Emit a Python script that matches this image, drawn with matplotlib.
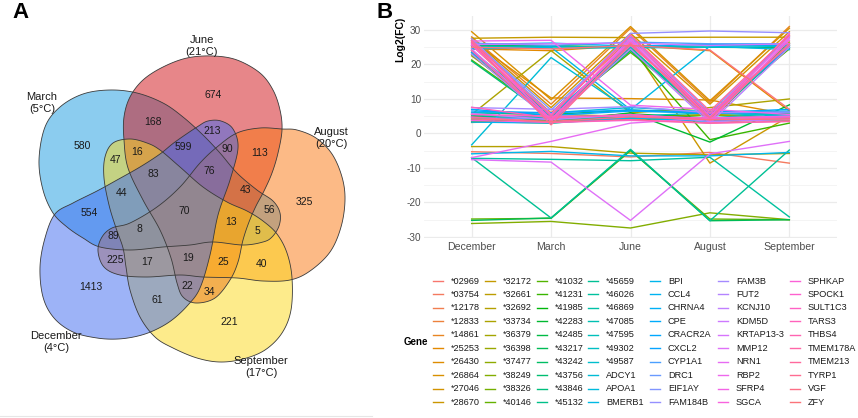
import numpy as np
import matplotlib
matplotlib.use("Agg")
import matplotlib.pyplot as plt
from matplotlib.patches import Polygon

plt.rcParams['font.family'] = ['Liberation Sans', 'DejaVu Sans']
plt.rcParams['axes.unicode_minus'] = False

# ---------------- panel A data
venn_sets = ["March", "June", "August", "September", "December"]
venn_temps = ["5°C", "21°C", "20°C", "17°C", "4°C"]
venn_counts = [674, 580, 325, 221, 1413, 168, 113, 40, 61, 554, 213, 47, 16, 599,
               90, 76, 43, 56, 5, 13, 25, 34, 22, 19, 17, 225, 89, 8, 44, 83, 70]

# ---------------- panel B data
months = ["December", "March", "June", "August", "September"]
genes = ["*02969", "*03754", "*12178", "*12833", "*14861", "*25253", "*26430", "*26864", "*27046", "*28670",
         "*32172", "*32661", "*32692", "*33734", "*36379", "*36398", "*37477", "*38249", "*38326", "*40146",
         "*41032", "*41231", "*41985", "*42283", "*42485", "*43217", "*43242", "*43756", "*43846", "*45132",
         "*45659", "*46026", "*46869", "*47085", "*47595", "*49302", "*49587", "ADCY1", "APOA1", "BMERB1",
         "BPI", "CCL4", "CHRNA4", "CPE", "CRACR2A", "CXCL2", "CYP1A1", "DRC1", "EIF1AY", "FAM184B",
         "FAM3B", "FUT2", "KCNJ10", "KDM5D", "KRTAP13-3", "MMP12", "NRN1", "RBP2", "SFRP4", "SGCA",
         "SPHKAP", "SPOCK1", "SULT1C3", "TARS3", "THBS4", "TMEM178A", "TMEM213", "TYRP1", "VGF", "ZFY"]
fc_december = [25.5, -5.3, 26.5, 4.5, 28.0, 24.5, 27.0, 29.5, 27.5, 24.0,
               27.6, 4.5, -3.8, 5.5, 3.5, 22.5, 5.0, -26.1, 3.2, -24.8,
               21.3, 23.0, 4.8, 4.0, 25.5, -25.2, 6.0, 21.0, 5.2, 23.5,
               -7.0, -7.2, 24.0, 5.5, 25.3, 4.0, 24.7, -3.3, 6.0, 24.5,
               -5.9, 3.3, 25.8, 23.5, 7.0, 6.5, 26.2, 4.6, 27.0, 27.5,
               7.5, 23.0, 5.8, 25.8, 24.5, -7.6, -7.0, 26.8, 26.5, 3.8,
               25.5, 5.5, 26.0, 7.6, 24.0, 4.8, 27.0, 26.5, 4.2, 25.0]
fc_march = [4.5, -5.8, 6.0, 4.0, 8.5, 24.0, 10.3, 9.8, 7.5, 4.5,
            27.9, 5.0, -3.8, 24.0, 3.0, 5.5, 5.5, -25.5, 3.8, -24.6,
            5.0, 4.0, 4.2, 3.2, 25.5, -24.5, 5.5, 4.5, 3.8, 5.0,
            -24.5, -7.5, 5.5, 4.5, 25.2, 4.8, 24.8, 22.0, 6.0, 25.0,
            -5.2, 3.0, 26.2, 5.0, 5.2, 6.0, 25.5, 4.2, 6.8, 5.5,
            7.0, 3.5, 4.0, 26.0, 3.8, -8.3, -2.3, 27.0, 4.0, 3.2,
            5.5, 5.0, 4.2, 4.5, 3.5, 3.2, 5.0, 2.5, 3.5, 24.5]
fc_june = [25.0, -6.8, 27.5, 5.0, 30.5, 25.5, 10.1, 31.0, 29.0, 26.0,
           27.8, 4.0, -5.7, 6.0, 4.8, 24.5, 5.0, -27.4, 4.5, -5.0,
           23.5, 24.5, 5.7, 6.0, 25.0, -4.8, 6.8, 24.0, 4.6, 24.5,
           -4.6, -7.9, 25.0, 4.5, 25.0, 5.0, 24.8, 6.5, 7.5, 6.9,
           -6.5, 4.5, 25.3, 26.0, 6.5, 6.8, 26.5, 5.4, 28.0, 29.0,
           7.8, 24.5, 5.5, 26.2, 27.0, -25.2, 3.0, 8.2, 27.5, 3.8,
           28.5, 5.0, 26.5, 5.5, 25.5, 4.0, 28.5, 26.0, 4.8, 25.5]
fc_august = [3.5, -5.5, 5.0, 3.0, 9.0, 24.0, 9.7, 9.5, 8.5, -8.6,
             27.9, 4.2, -6.2, 7.5, 5.5, 4.5, 5.3, -23.0, 4.0, -24.8,
             5.5, -1.8, 4.5, -2.5, 25.0, -25.3, 6.0, 5.0, 3.7, 5.5,
             -25.3, -6.9, 4.0, 4.5, 25.4, 6.0, 25.0, 6.0, 6.3, 25.3,
             -6.5, 3.5, 25.8, 5.5, 6.0, 5.8, 26.0, 4.2, 6.0, 29.7,
             6.0, 3.0, 3.5, 25.5, 3.5, -5.9, 4.5, 7.0, 4.5, 3.0,
             5.0, 4.5, 3.8, 4.0, 5.8, 3.0, 6.5, 4.5, 4.0, 24.2]
fc_september = [26.0, -8.6, 28.5, 4.5, 31.0, 6.5, 5.5, 30.5, 29.5, 5.0,
                27.9, 3.8, -5.8, 10.0, 6.0, 26.5, 4.8, -25.0, 3.5, -25.0,
                24.5, 3.0, 5.0, 8.3, 24.8, -25.0, 5.5, 25.0, 4.2, 26.0,
                -4.8, -24.2, 25.5, 6.0, 25.6, 5.5, 25.2, 5.0, 6.5, 24.3,
                -5.5, 4.8, 25.5, 25.0, 7.0, 6.2, 26.0, 5.0, 28.0, 29.2,
                6.2, 25.0, 4.0, 26.0, 27.5, -2.3, 5.0, 5.5, 28.0, 3.5,
                29.0, 4.8, 27.0, 4.5, 25.5, 3.5, 28.5, 26.0, 4.2, 7.0]

# ---------------- layout (pixel coords of the 858x418 canvas)
count_pos = [(213, 95), (82, 146), (304, 202), (229, 322), (91, 287), (153, 122), (260, 153),
             (262, 264), (157, 300), (89, 213), (212, 131), (115, 160), (137, 152), (183, 147),
             (227, 149), (209, 171), (245, 190), (269, 210), (257, 231), (231, 222), (223, 262),
             (209, 292), (187, 286), (188, 258), (147, 262), (115, 260), (113, 236), (139, 229),
             (122, 193), (153, 174), (184, 211)]
label_pos = [(42, 103), (202, 46), (331, 138), (261, 367), (56, 342)]
venn_colors = ["#199BE1", "#D10F15", "#FB770F", "#FDD919", "#3D69F1"]

# traced outline of each set's curve (closed, drawn smoothed)
outline = {
    "March": [(39, 160), (45, 127), (60, 107), (83, 94), (110, 90), (137, 93), (163, 103), (183, 117),
              (203, 135), (220, 153), (237, 173), (257, 190), (273, 201), (280, 213), (279, 226),
              (272, 237), (263, 242), (243, 245), (213, 242), (190, 245), (163, 247), (130, 250),
              (100, 247), (83, 238), (67, 227), (53, 213), (43, 190)],
    "June": [(124, 117), (130, 97), (143, 80), (163, 67), (187, 58), (213, 56), (237, 60), (260, 73),
             (273, 90), (280, 110), (282, 130), (278, 153), (272, 173), (264, 191), (256, 206), (249, 222),
             (243, 240), (238, 262), (230, 280), (215, 298), (196, 303), (183, 297), (177, 283), (171, 258),
             (160, 230), (143, 200), (128, 168), (124, 140)],
    "August": [(297, 130), (316, 138), (332, 154), (342, 177), (345, 200), (341, 227), (330, 252),
               (310, 271), (290, 280), (263, 281), (237, 278), (203, 277), (180, 275), (147, 277),
               (120, 275), (104, 267), (98, 251), (102, 237), (112, 228), (130, 223), (157, 207),
               (180, 187), (200, 163), (217, 147), (237, 133), (260, 128), (282, 129)],
    "September": [(113, 143), (130, 139), (147, 143), (160, 150), (180, 167), (203, 187), (227, 202),
                  (247, 211), (263, 221), (277, 234), (287, 253), (292, 278), (291, 310), (282, 333),
                  (265, 350), (243, 359), (220, 362), (197, 358), (173, 348), (155, 337), (140, 317),
                  (130, 290), (126, 267), (123, 248), (116, 228), (109, 205), (104, 178), (105, 157)],
    "December": [(197, 127), (208, 121), (221, 121), (233, 129), (238, 148), (230, 180), (218, 215),
                 (210, 255), (200, 288), (188, 305), (172, 320), (155, 330), (138, 336), (118, 339),
                 (97, 338), (73, 332), (54, 318), (43, 297), (40, 267), (45, 238), (55, 214), (73, 203),
                 (97, 191), (117, 180), (140, 167), (160, 154), (175, 142)],
}


def smooth_closed(pts, n=14):
    p = np.asarray(pts, float)
    P0, P1, P2, P3 = np.roll(p, 1, 0), p, np.roll(p, -1, 0), np.roll(p, -2, 0)
    t = np.linspace(0, 1, n, endpoint=False)[:, None, None]
    out = 0.5 * (2 * P1 + (P2 - P0) * t + (2 * P0 - 5 * P1 + 4 * P2 - P3) * t ** 2
                 + (3 * P1 - P0 - 3 * P2 + P3) * t ** 3)
    return out.transpose(1, 0, 2).reshape(-1, 2)


def hue_pal(n, l=65, c=100):
    # ggplot2 default discrete palette (hcl, polar Luv)
    h = np.radians(np.linspace(15, 375, n + 1)[:-1])
    u, v = c * np.cos(h), c * np.sin(h)
    Xn, Yn, Zn = 95.047, 100.0, 108.883
    un = 4 * Xn / (Xn + 15 * Yn + 3 * Zn)
    vn = 9 * Yn / (Xn + 15 * Yn + 3 * Zn)
    Y = np.full_like(u, Yn * ((l + 16) / 116) ** 3)
    up = u / (13 * l) + un
    vp = v / (13 * l) + vn
    X = 9 * Y * up / (4 * vp)
    Z = Y * (12 - 3 * up - 20 * vp) / (4 * vp)
    xyz = np.vstack([X, Y, Z]) / 100
    m = np.array([[3.2404542, -1.5371385, -0.4985314],
                  [-0.9692660, 1.8760108, 0.0415560],
                  [0.0556434, -0.2040259, 1.0572252]])
    rgb = np.clip((m @ xyz).T, 0, None)
    rgb = np.where(rgb <= 0.0031308, 12.92 * rgb, 1.055 * rgb ** (1 / 2.4) - 0.055)
    return np.clip(rgb, 0, 1)


fig = plt.figure(figsize=(8.58, 4.18), dpi=100)

# ---------------- panel B: line chart
ax = fig.add_axes([424 / 858, 1 - 238 / 418, (837 - 424) / 858, (238 - 16) / 418])
cols = hue_pal(len(genes))
series = np.column_stack([fc_december, fc_march, fc_june, fc_august, fc_september])
xs = np.arange(len(months))
for i, g in enumerate(genes):
    ax.plot(xs, series[i], color=cols[i], lw=1.0)
ax.set_xlim(-0.6, 4.6)
ax.set_ylim(-30.3, 34.05)
ax.set_xticks(xs)
ax.set_xticklabels(months)
ax.set_yticks(np.arange(-30, 31, 10))
ax.set_yticks(np.arange(-25, 30, 10), minor=True)
ax.grid(True, which='major', color='#EBEBEB', lw=0.9)
ax.grid(True, which='minor', axis='y', color='#F3F3F3', lw=0.6)
ax.set_axisbelow(True)
for sp in ax.spines.values():
    sp.set_visible(False)
ax.tick_params(which='both', length=0, labelcolor='#4D4D4D', pad=2)
ax.tick_params(axis='x', labelsize=7.6, pad=3)
ax.tick_params(axis='y', labelsize=7.2)

# ---------------- pixel overlay: Venn, labels, legend
pax = fig.add_axes([0, 0, 1, 1])
pax.set_xlim(0, 858)
pax.set_ylim(418, 0)
pax.axis('off')

shapes = [smooth_closed(outline[s]) for s in venn_sets]
for shp, col in zip(shapes, venn_colors):
    pax.add_patch(Polygon(shp, closed=True, facecolor=col, alpha=0.5, edgecolor='none'))
for shp in shapes:
    pax.add_patch(Polygon(shp, closed=True, facecolor='none', edgecolor='#3a3a3a', lw=0.6))

for n, (x, y) in zip(venn_counts, count_pos):
    pax.text(x, y, str(n), ha='center', va='center', fontsize=7.5, color='#1a1a1a')
for s, t, (x, y) in zip(venn_sets, venn_temps, label_pos):
    pax.text(x, y, f"{s}\n({t})", ha='center', va='center', fontsize=8, linespacing=1.2, color='#1a1a1a')

pax.plot([0, 372], [416, 416], color='#E6E6E6', lw=0.8)
pax.text(12, 2, "A", fontsize=16, fontweight='bold', va='top', ha='left')
pax.text(377, 2, "B", fontsize=16, fontweight='bold', va='top', ha='left')
pax.text(400, 17, "Log2(FC)", rotation=90, fontsize=7.5, fontweight='bold', va='top', ha='center')

# legend
pax.text(404, 342, "Gene", fontsize=7, fontweight='bold', va='center', ha='left')
key_x = [433, 485, 537, 588, 650, 718, 790]
for i, g in enumerate(genes):
    c, r = divmod(i, 10)
    y = 281 + 13.45 * r
    pax.plot([key_x[c], key_x[c] + 10], [y, y], color=cols[i], lw=1.0)
    pax.text(key_x[c] + 18, y, g, fontsize=6.6, va='center', ha='left', color='#1a1a1a')

fig.savefig("out.png", dpi=100)
